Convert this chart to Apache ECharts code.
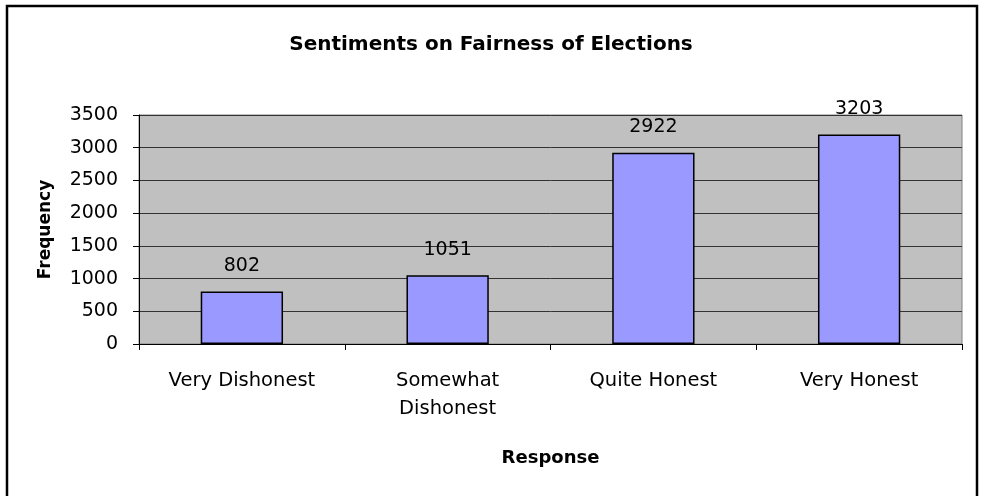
<!DOCTYPE html>
<html>
<head>
<meta charset="utf-8">
<script src="https://cdn.jsdelivr.net/npm/echarts@6/dist/echarts.min.js"></script>
<style>
  html, body { margin: 0; padding: 0; background: #fff; }
  #chart { width: 982px; height: 496px; }
</style>
</head>
<body>
<div id="chart"></div>
<script>
// Survey responses on how fair elections are
const categories = ['Very Dishonest', 'Somewhat\nDishonest', 'Quite Honest', 'Very Honest'];
const frequencies = [802, 1051, 2922, 3203];
const yTicks = [0, 500, 1000, 1500, 2000, 2500, 3000, 3500];

const FONT = '"DejaVu Sans", Verdana, sans-serif';
const chart = echarts.init(document.getElementById('chart'));

chart.setOption({
  backgroundColor: '#ffffff',
  animation: false,
  title: {
    text: 'Sentiments on Fairness of Elections',
    left: 'center',
    top: 30,
    textStyle: { fontFamily: FONT, fontSize: 20, fontWeight: 'bold', color: '#000' }
  },
  graphic: [{
    type: 'rect',
    shape: { x: 7, y: 6, width: 970, height: 500 },
    style: { fill: 'none', stroke: '#000', lineWidth: 2.5 },
    silent: true
  }],
  grid: {
    left: 139, right: 20, top: 115, bottom: 152,
    show: true,
    backgroundColor: '#c0c0c0',
    borderColor: '#808080',
    borderWidth: 1
  },
  xAxis: {
    type: 'category',
    data: categories,
    name: 'Response',
    nameLocation: 'middle',
    nameGap: 105,
    nameTextStyle: { fontFamily: FONT, fontSize: 18, fontWeight: 'bold', color: '#000' },
    axisLine: { lineStyle: { color: '#000', width: 1 } },
    axisTick: { show: true, length: 6, lineStyle: { color: '#000' } },
    axisLabel: {
      fontFamily: FONT, fontSize: 19.5, color: '#000',
      margin: 23, lineHeight: 28, interval: 0
    },
    splitLine: { show: false }
  },
  yAxis: {
    type: 'value',
    min: yTicks[0],
    max: yTicks[yTicks.length - 1],
    interval: yTicks[1] - yTicks[0],
    name: 'Frequency',
    nameLocation: 'middle',
    nameGap: 85,
    nameTextStyle: { fontFamily: FONT, fontSize: 17, fontWeight: 'bold', color: '#000' },
    axisLine: { show: true, lineStyle: { color: '#000', width: 1 } },
    axisTick: { show: true, length: 6, lineStyle: { color: '#000' } },
    axisLabel: {
      fontFamily: FONT, fontSize: 19, color: '#000', margin: 21,
      formatter: v => String(v)
    },
    splitLine: { show: true, lineStyle: { color: '#333', width: 1 } }
  },
  series: [{
    type: 'bar',
    data: frequencies,
    barWidth: '40%',
    itemStyle: { color: '#9999ff', borderColor: '#000', borderWidth: 1.5 },
    label: {
      show: true,
      position: 'top',
      distance: 16,
      fontFamily: FONT,
      fontSize: 19,
      color: '#000'
    }
  }]
});
</script>
</body>
</html>
